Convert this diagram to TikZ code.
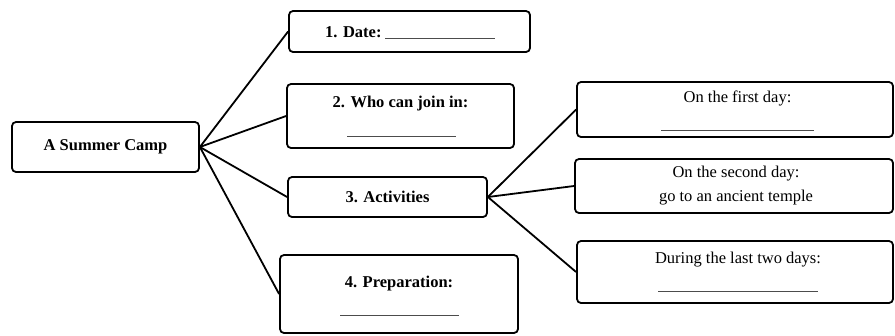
\documentclass[tikz,border=0pt]{standalone}
\usepackage{fontspec}
\setmainfont{Liberation Serif}
\begin{document}
\begin{tikzpicture}[x=1pt,y=-1pt,
  box/.style={draw=black,line width=1.8pt,rounded corners=4pt,minimum width=#1,inner sep=0pt},
  txt/.style={inner sep=0pt,font=\fontsize{16.5}{20}\selectfont},
  btxt/.style={inner sep=0pt,font=\fontsize{16.5}{20}\selectfont\bfseries},
  link/.style={line width=1.8pt,black},
  blank/.style={line width=0.7pt,black!70}]
\useasboundingbox (0,0) rectangle (895,335);
% boxes
\node[box=187pt,minimum height=50pt] (main) at (105.5,147) {};
\node[box=241pt,minimum height=41pt] (b1) at (409.5,31.5) {};
\node[box=227pt,minimum height=64pt] (b2) at (400.5,116) {};
\node[box=199pt,minimum height=40pt] (b3) at (387.5,197) {};
\node[box=238pt,minimum height=78pt] (b4) at (399,294) {};
\node[box=316pt,minimum height=55pt] (bA) at (735,109.5) {};
\node[box=318pt,minimum height=54pt] (bB) at (734,186) {};
\node[box=316pt,minimum height=62pt] (bC) at (735,272) {};
% texts
\node[btxt] (tmain) at (105.5,147) {A Summer Camp};
\node[btxt,anchor=west] (t1) at (325,32) {1. Date:};
\node[btxt] (t2) at (400.5,104) {2. Who can join in:};
\node[btxt] (t3) at (387.5,197) {3. Activities};
\node[btxt] (t4) at (399,284) {4. Preparation:};
\node[txt] (tA) at (737.5,98) {On the first day:};
\node[txt] (tB1) at (736,174) {On the second day:};
\node[txt] (tB2) at (736,198) {go to an ancient temple};
\node[txt] (tC) at (738,260) {During the last two days:};
% blanks
\coordinate (u1a) at (385,38.5); \coordinate (u1b) at (495,38.5);
\coordinate (u2a) at (347,136); \coordinate (u2b) at (456,136);
\coordinate (u4a) at (340,315); \coordinate (u4b) at (459,315);
\coordinate (uAa) at (661,130); \coordinate (uAb) at (814,130);
\coordinate (uCa) at (658,291); \coordinate (uCb) at (818,291);
\draw[blank] (u1a) -- (u1b);
\draw[blank] (u2a) -- (u2b);
\draw[blank] (u4a) -- (u4b);
\draw[blank] (uAa) -- (uAb);
\draw[blank] (uCa) -- (uCb);
% connectors
\draw[link] (main.east) -- (b1.west);
\draw[link] (main.east) -- (b2.west);
\draw[link] (main.east) -- (b3.west);
\draw[link] (main.east) -- (b4.west);
\draw[link] (b3.east) -- (bA.west);
\draw[link] (b3.east) -- (bB.west);
\draw[link] (b3.east) -- (bC.west);
\end{tikzpicture}
\end{document}
